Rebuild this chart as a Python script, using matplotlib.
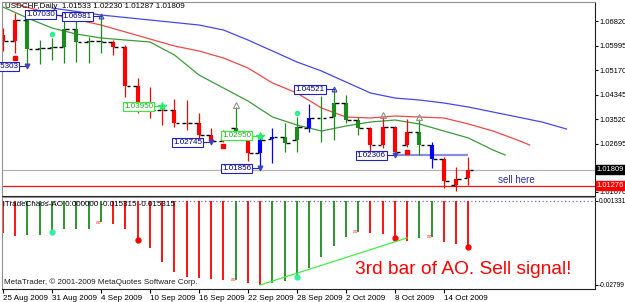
import matplotlib
matplotlib.use('Agg')
import matplotlib.pyplot as plt
import numpy as np

plt.rcParams['font.family'] = ['Liberation Sans', 'DejaVu Sans']

# daily bars 25 Aug .. 16 Oct 2009 (USDCHF)
opens = [1.06349, 1.06147, 1.06854, 1.05877, 1.05911, 1.05945, 1.06551, 1.06113, 1.06147, 1.06113,
         1.05945, 1.04631, 1.03857, 1.03840, 1.03823, 1.03386, 1.03380, 1.02982, 1.02780, 1.03217,
         1.02914, 1.02376, 1.02847, 1.02914, 1.02813, 1.03217, 1.03554, 1.03588, 1.04059, 1.03487,
         1.03217, 1.02645, 1.03251, 1.02645, 1.03083, 1.02645, 1.02174, 1.01298, 1.01533]
highs = [1.06584, 1.07089, 1.07089, 1.06180, 1.06248, 1.07030, 1.06854, 1.06281, 1.06981, 1.06180,
         1.06012, 1.04901, 1.04598, 1.03950, 1.04194, 1.04160, 1.03722, 1.03217, 1.03150, 1.03924,
         1.02982, 1.02950, 1.03217, 1.03386, 1.03588, 1.04025, 1.04295, 1.04521, 1.04328, 1.03588,
         1.03251, 1.03588, 1.03285, 1.03520, 1.03520, 1.02746, 1.02241, 1.01904, 1.02230]
lows = [1.05810, 1.05743, 1.05303, 1.05372, 1.05507, 1.05406, 1.05440, 1.05406, 1.05743, 1.05675,
        1.04261, 1.03722, 1.03554, 1.03318, 1.03251, 1.03150, 1.02881, 1.02745, 1.02760, 1.03015,
        1.02106, 1.01856, 1.02039, 1.02409, 1.02409, 1.03083, 1.02746, 1.02813, 1.03386, 1.02982,
        1.02376, 1.02544, 1.02306, 1.02578, 1.02308, 1.01871, 1.01197, 1.01096, 1.01287]
closes = [1.06147, 1.06854, 1.05877, 1.05911, 1.05945, 1.06551, 1.06113, 1.06147, 1.06113, 1.05945,
          1.04631, 1.03857, 1.03840, 1.03823, 1.03386, 1.03380, 1.02982, 1.02780, 1.02847, 1.03049,
          1.02376, 1.02813, 1.02914, 1.02712, 1.03251, 1.03554, 1.03560, 1.04059, 1.03487, 1.03217,
          1.02645, 1.03251, 1.02409, 1.03083, 1.02645, 1.02174, 1.01433, 1.01500, 1.01809]
zones = 'rrgggggggrrrrrrrrrrgrbbggbggggrrrrgbrrr'

# Awesome Oscillator values
ao = [-0.0108, -0.0116, -0.0115, -0.0113, -0.0102, -0.0094, -0.0093, -0.0092, -0.0071, -0.0078,
      -0.0094, -0.0130, -0.0158, -0.0202, -0.0236, -0.0252, -0.0258, -0.0261, -0.0265, -0.0262,
      -0.0272, -0.02799, -0.0274, -0.0266, -0.0254, -0.0222, -0.0186, -0.0149, -0.0119, -0.0102,
      -0.0108, -0.0111, -0.0122, -0.0132, -0.0123, -0.0119, -0.0136, -0.0143, -0.015315]

# alligator lines (already shifted forward)
jaw_x = [4, 8, 12, 16, 18, 20, 22, 24, 26, 28, 30, 32, 34, 36, 38, 40, 42, 44, 46]
jaw = [1.07258, 1.07022, 1.06854, 1.06685, 1.06517, 1.06180, 1.05810, 1.05440, 1.05137, 1.04766,
       1.04396, 1.04227, 1.04160, 1.04059, 1.03924, 1.03756, 1.03588, 1.03419, 1.03184]
teeth_x = [1, 4, 8, 12, 14, 16, 18, 20, 22, 24, 26, 28, 30, 32, 34, 36, 38, 40, 42, 43]
teeth = [1.07392, 1.07056, 1.06685, 1.06214, 1.05978, 1.05810, 1.05574, 1.05238, 1.04732, 1.04396,
         1.03891, 1.03588, 1.03554, 1.03621, 1.03588, 1.03554, 1.03352, 1.03116, 1.02813, 1.02645]
lips_x = [0, 2, 4, 6, 8, 10, 12, 14, 16, 18, 20, 22, 24, 26, 28, 30, 32, 34, 36, 38, 40, 41]
lips = [1.07291, 1.06921, 1.06584, 1.06382, 1.06248, 1.06180, 1.06113, 1.05675, 1.05002, 1.04564,
        1.04126, 1.03588, 1.03318, 1.03116, 1.03285, 1.03419, 1.03487, 1.03352, 1.03116, 1.02881,
        1.02477, 1.02308]

# price boxes: bar, price, kind
box_bars = [5, 8, 2, 13, 17, 21, 21, 27, 32]
box_prices = [1.07030, 1.06981, 1.05303, 1.03950, 1.02745, 1.02950, 1.01856, 1.04521, 1.02306]
box_kind = ['hi', 'hi', 'lo', 'star', 'lo', 'star', 'lo', 'hi', 'lo']

up_arrows = [19, 31, 34]
dots_top = [4, 24]
squares_bottom = [1, 18, 33]
ao_up = [4, 24]
ao_dn = [11, 32, 38]
ao_tag = [8, 19, 29, 35]
trend_x = [21, 33]
trend_y = [-0.02799, -0.0123]

price_ticks = [1.06820, 1.05995, 1.05170, 1.04345, 1.03520, 1.02695, 1.01070]
last_price = 1.01809
sell_price = 1.01276
date_pos = [0, 4, 8, 12, 16, 20, 24, 28, 32, 36]
date_labels = ['25 Aug 2009', '31 Aug 2009', '4 Sep 2009', '10 Sep 2009', '16 Sep 2009',
               '22 Sep 2009', '28 Sep 2009', '2 Oct 2009', '8 Oct 2009', '14 Oct 2009']

zone_col = {'r': '#ff0000', 'g': '#1f8a1f', 'b': '#0000ff'}
fs = 5.8
fs_axis = 5.4

fig = plt.figure(figsize=(6.25, 3.02), dpi=100)
ax1 = fig.add_axes([0.0032, 0.35099, 0.9488, 0.64238])
ax2 = fig.add_axes([0.0032, 0.04305, 0.9488, 0.30464])

xmin, xmax = -0.0816, 48.33
n = len(opens)

# --- price panel
ax1.plot(jaw_x, jaw, color='#4646f0', lw=0.9)
ax1.plot(teeth_x, teeth, color='#f04848', lw=0.9)
ax1.plot(lips_x, lips, color='#3c9c3c', lw=0.9)

ax1.axhline(last_price, color='#b4b4b4', lw=0.9)
ax1.axhline(sell_price, color='#ff1010', lw=0.9)
ax1.hlines(box_prices[-1], 32, 38, color='#8c8ce6', lw=1.6)

for i in range(n):
    c = zone_col[zones[i]]
    ax1.vlines(i, lows[i], highs[i], color=c, lw=0.9)
    ax1.vlines(i, min(opens[i], closes[i]), max(opens[i], closes[i]), color=c, lw=3)
    ax1.hlines(opens[i], i - 0.4, i - 0.1, color='black', lw=1)
    ax1.hlines(closes[i], i + 0.1, i + 0.4, color='black', lw=1)

for b, p, k in zip(box_bars, box_prices, box_kind):
    if k == 'star':
        ec, tc = '#33ee33', '#22aa22'
        ax1.plot([b - 0.6, b], [p, p], color='#33ee33', lw=0.8)
        ax1.plot(b, p, marker='*', color='#22ee66', ms=6)
    else:
        ec, tc = '#2020c8', '#000080'
        ax1.plot([b - 0.6, b], [p, p], color='#2020c8', lw=0.8)
        ax1.plot(b, p, marker='v' if k == 'lo' else '^', color='#4040c0', ms=3.5,
                 mfc='none' if k == 'hi' else '#4040c0', mew=0.8)
    ax1.text(b - 0.75, p, '%.5f' % p, ha='right', va='center', fontsize=fs, color=tc,
             bbox=dict(boxstyle='square,pad=0.12', fc='white', ec=ec, lw=0.8))

for b in up_arrows:
    ax1.plot(b, highs[b] + 0.0007, marker='^', ms=4.5, mfc='none', mec='#909090', mew=0.8)
for b in dots_top:
    ax1.plot(b, highs[b] + 0.0012, 'o', ms=3, color='#30f090')
for b in squares_bottom:
    ax1.plot(b, lows[b] - 0.0016, 's', ms=2.5, color='#ff0000')

ax1.set_xlim(xmin, xmax)
ax1.set_ylim(1.00928, 1.07460)
ax1.set_xticks([])
ax1.yaxis.tick_right()
ax1.set_yticks(price_ticks)
ax1.set_yticklabels(['%.5f' % v for v in price_ticks])
ax1.tick_params(axis='y', labelsize=fs_axis, length=2, pad=1, colors='black')
ax1.text(1.003, last_price, '%.5f' % last_price, transform=ax1.get_yaxis_transform(),
         ha='left', va='center', fontsize=fs_axis, color='white',
         bbox=dict(boxstyle='square,pad=0.15', fc='black', ec='black'))
ax1.text(1.003, sell_price, '%.5f' % sell_price, transform=ax1.get_yaxis_transform(),
         ha='left', va='center', fontsize=fs_axis, color='white',
         bbox=dict(boxstyle='square,pad=0.15', fc='#ff0000', ec='#ff0000'))
ax1.text(40.4, 1.0145, 'sell here', fontsize=7, color='#3030a0', ha='left', va='center')

for s in ['left', 'top']:
    ax1.spines[s].set_color('#909090')
for s in ['right', 'bottom']:
    ax1.spines[s].set_color('#202020')

# --- AO panel
ax2.axhline(0, color='#7070c8', lw=0.9, ls=(0, (1, 2)))
for i in range(n):
    up = i > 0 and ao[i] > ao[i - 1]
    ax2.vlines(i, ao[i], 0, color='#1f8a1f' if up else '#ff0000', lw=1.3)
for b in ao_up:
    ax2.plot(b, ao[b], 'o', ms=3.5, color='#30f0a0')
for b in ao_dn:
    ax2.plot(b, ao[b], 'o', ms=3.5, color='#ff0000')
for b in ao_tag:
    ax2.text(b - 0.2, ao[b], 'ao', fontsize=3.5, color='#ff2020', ha='center', va='center')
ax2.plot(trend_x, trend_y, color='#44ee44', lw=0.9)
ax2.text(28.7, -0.0230, '3rd bar of AO. Sell signal!', fontsize=13.8, color='#ff0000',
         ha='left', va='center')

ax2.set_xlim(xmin, xmax)
ax2.set_ylim(-0.029336, 0.001331)
ax2.yaxis.tick_right()
ax2.set_yticks([0.0, -0.02799])
ax2.set_yticklabels(['0.001331', '-0.02799'])
ax2.tick_params(axis='y', labelsize=4.8, length=2, pad=1)
ax2.set_xticks(date_pos)
ax2.set_xticklabels(date_labels)
for lab in ax2.get_xticklabels():
    lab.set_ha('left')
ax2.tick_params(axis='x', labelsize=fs, length=3, pad=1)
for s in ['left', 'top']:
    ax2.spines[s].set_color('#909090')
for s in ['right', 'bottom']:
    ax2.spines[s].set_color('#202020')

fig.text(5 / 625, 1 - 7 / 302, 'USDCHF,Daily  1.01533 1.02230 1.01287 1.01809',
         fontsize=fs, va='center', ha='left')
fig.text(3 / 625, 1 - 205 / 302, 'iTradeChaos-AO 0.000000 -0.015315 -0.015315',
         fontsize=fs, va='center', ha='left')
fig.text(4 / 625, 1 - 282 / 302, 'MetaTrader, \u00a9 2001-2009 MetaQuotes Software Corp.',
         fontsize=fs, va='center', ha='left', color='#202020')

fig.savefig('out.png', dpi=100)
